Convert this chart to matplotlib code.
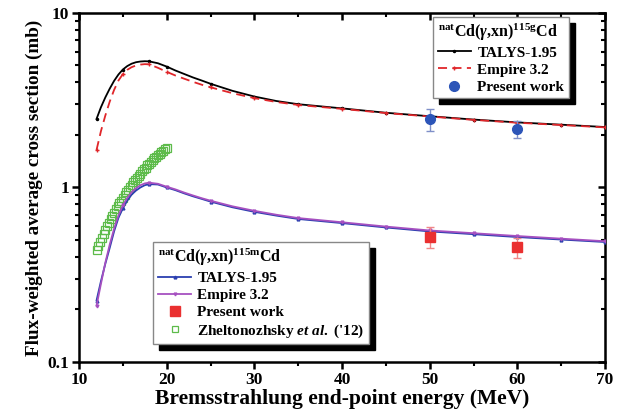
import numpy as np
import matplotlib
matplotlib.use("Agg")
import matplotlib.pyplot as plt
from matplotlib.patches import Rectangle
from matplotlib.lines import Line2D

plt.rcParams['font.family'] = ['Liberation Serif', 'DejaVu Serif']
plt.rcParams['font.weight'] = 'bold'
plt.rcParams['mathtext.fontset'] = 'custom'
plt.rcParams['mathtext.rm'] = 'Liberation Serif:bold'
plt.rcParams['mathtext.bf'] = 'Liberation Serif:bold'
plt.rcParams['mathtext.it'] = 'Liberation Serif:bold:italic'

# --- model curves (energy in MeV, cross section in mb) ---
energy = [12, 12.5, 13, 13.5, 14, 14.5, 15, 15.5, 16, 16.5, 17, 17.5, 18, 19, 20,
          21, 22, 23, 24, 25, 27.5, 30, 32.5, 35, 40, 45, 50, 55, 60, 65, 70]

talys_g = [2.47, 2.88, 3.28, 3.68, 4.08, 4.44, 4.74, 4.96, 5.12, 5.22, 5.27, 5.29, 5.28, 5.15, 4.93,
           4.68, 4.47, 4.27, 4.10, 3.93, 3.58, 3.32, 3.13, 3.00, 2.84, 2.68, 2.56, 2.45, 2.36, 2.29, 2.22]
empire_g = [1.64, 2.10, 2.58, 3.10, 3.62, 4.10, 4.46, 4.72, 4.89, 5.00, 5.06, 5.09, 5.08, 4.85, 4.60,
            4.38, 4.20, 4.03, 3.88, 3.75, 3.47, 3.25, 3.09, 2.97, 2.82, 2.67, 2.55, 2.44, 2.35, 2.28, 2.21]
talys_m = [0.225, 0.29, 0.365, 0.45, 0.56, 0.67, 0.76, 0.84, 0.91, 0.96, 1.00, 1.03, 1.045, 1.04, 1.00,
           0.965, 0.925, 0.89, 0.86, 0.83, 0.77, 0.725, 0.69, 0.66, 0.625, 0.59, 0.56, 0.54, 0.52, 0.503, 0.487]
empire_m = [0.21, 0.28, 0.37, 0.47, 0.58, 0.69, 0.79, 0.87, 0.94, 0.99, 1.03, 1.055, 1.065, 1.05, 1.01,
            0.975, 0.935, 0.9, 0.868, 0.84, 0.78, 0.735, 0.698, 0.668, 0.632, 0.597, 0.567, 0.547, 0.527, 0.509, 0.492]

# energies that carry a symbol on the model curves
mark_energy = [12, 15, 18, 20, 25, 30, 35, 40, 45, 50, 55, 60, 65, 70]

# --- present work ---
pw_energy = [50, 60]
pw_g = [2.47, 2.16]
pw_g_err = [0.35, 0.25]
pw_m = [0.52, 0.455]
pw_m_err = [0.07, 0.06]

# --- Zheltonozhsky et al. ('12) ---
zh_energy = [12.0, 12.2, 12.4, 12.6, 12.8, 13.0, 13.2, 13.4, 13.6, 13.8, 14.0, 14.2, 14.4, 14.6,
             14.8, 15.0, 15.2, 15.4, 15.6, 15.8, 16.0, 16.2, 16.4, 16.6, 16.8, 17.0, 17.2, 17.4,
             17.6, 17.8, 18.0, 18.2, 18.4, 18.6, 18.8, 19.0, 19.2, 19.4, 19.6, 19.8, 20.0]
zh_m = [0.440, 0.465, 0.490, 0.516, 0.543, 0.571, 0.600, 0.628, 0.658, 0.687, 0.718, 0.748, 0.780, 0.811,
        0.841, 0.873, 0.906, 0.938, 0.970, 1.000, 1.035, 1.069, 1.100, 1.135, 1.170, 1.200, 1.236, 1.270,
        1.300, 1.337, 1.370, 1.400, 1.435, 1.470, 1.500, 1.530, 1.563, 1.596, 1.626, 1.656, 1.687]

marks = [energy.index(e) for e in mark_energy]

fig = plt.figure(figsize=(6.25, 4.18), dpi=100)
ax = fig.add_axes([0.1264, 0.134, 0.8416, 0.835])

l_tg, = ax.plot(energy, talys_g, color='black', lw=1.3, marker='.', ms=3, markevery=marks, zorder=3)
l_eg, = ax.plot(energy, empire_g, color='#e0262a', lw=1.3, ls=(0, (5, 3)), marker='+', ms=3,
                markevery=marks, zorder=3)
l_tm, = ax.plot(energy, talys_m, color='#2b3fb0', lw=1.3, marker='^', ms=2, markevery=marks, zorder=3)
l_em, = ax.plot(energy, empire_m, color='#a650c0', lw=1.3, marker='v', ms=2, markevery=marks, zorder=3)

h_zh, = ax.plot(zh_energy, zh_m, ls='none', marker='s', ms=5.5, mfc='none', mec='#5dbb4a', mew=0.9, zorder=2)

eb_g = ax.errorbar(pw_energy, pw_g, yerr=pw_g_err, fmt='o', ms=7, color='#2c55b8',
                   ecolor='#7f8fc8', elinewidth=1, capsize=3, zorder=4)
eb_m = ax.errorbar(pw_energy, pw_m, yerr=pw_m_err, fmt='s', ms=7, color='#ea3030',
                   ecolor='#f08888', elinewidth=1, capsize=3, zorder=4)

ax.set_yscale('log')
ax.set_xlim(10, 70)
ax.set_ylim(0.1, 10)
ax.set_xticks(np.arange(10, 71, 10))
ax.set_xticks(np.arange(15, 70, 10), minor=True)
ax.set_yticks([0.1, 1, 10])
ax.set_yticklabels(['0.1', '1', '10'])

for s in ax.spines.values():
    s.set_linewidth(1.8)
ax.tick_params(which='major', direction='out', length=5, width=1.8, labelsize=12.5, pad=2)
ax.tick_params(which='minor', direction='out', length=3, width=1.5)
ax.tick_params(axis='y', which='minor', labelleft=False)

top = ax.secondary_xaxis('top')
top.set_xticks(np.arange(10, 71, 10))
top.set_xticks(np.arange(15, 70, 10), minor=True)
top.tick_params(which='major', direction='in', length=5, width=1.8, labeltop=False)
top.tick_params(which='minor', direction='in', length=3, width=1.5)
right = ax.secondary_yaxis('right')
right.tick_params(which='major', direction='in', length=5, width=1.8, labelright=False)
right.tick_params(which='minor', direction='in', length=3, width=1.5, labelright=False)

ax.set_xlabel('Bremsstrahlung end-point energy (MeV)', fontsize=15.5, fontweight='bold', labelpad=1)
ax.set_ylabel('Flux-weighted average cross section (mb)', fontsize=13.8, fontweight='bold', labelpad=3)

leg_kw = dict(frameon=True, fancybox=False, edgecolor='#888888', framealpha=1,
              prop={'size': 11, 'weight': 'bold'}, title_fontsize=11.5,
              handlelength=2.2, handletextpad=0.4, labelspacing=0.22, borderpad=0.3,
              borderaxespad=0)

pw_g_h = Line2D([], [], ls='none', marker='o', ms=7, color='#2c55b8')
leg1 = ax.legend([l_tg, l_eg, pw_g_h], ['TALYS-1.95', 'Empire 3.2', 'Present work'],
                 title=r'$^{\mathrm{nat}}$Cd($\gamma$,xn)$^{\mathrm{115g}}$Cd',
                 loc='upper left', bbox_to_anchor=(0.673, 0.989), **leg_kw)
leg1._legend_box.align = 'left'
ax.add_artist(leg1)

pw_m_h = Line2D([], [], ls='none', marker='s', ms=7, color='#ea3030')
zh_h = Line2D([], [], ls='none', marker='s', ms=5, mfc='none', mec='#5dbb4a', mew=0.9)
leg2 = ax.legend([l_tm, l_em, pw_m_h, zh_h],
                 ['TALYS-1.95', 'Empire 3.2', 'Present work', "Zheltonozhsky $\\mathit{et\\ al.}$ ('12)"],
                 title=r'$^{\mathrm{nat}}$Cd($\gamma$,xn)$^{\mathrm{115m}}$Cd',
                 loc='upper left', bbox_to_anchor=(0.141, 0.344), **leg_kw)
leg2._legend_box.align = 'left'

# solid black drop shadows behind both legends
fig.canvas.draw()
r = fig.canvas.get_renderer()
inv = ax.transAxes.inverted()
for lg in (leg1, leg2):
    bb = lg.get_window_extent(r)
    (x0, y0), (x1, y1) = inv.transform([[bb.x0 + 6, bb.y0 - 6], [bb.x1 + 6, bb.y1 - 6]])
    ax.add_patch(Rectangle((x0, y0), x1 - x0, y1 - y0, transform=ax.transAxes,
                           color='black', zorder=4.5, clip_on=False))

fig.savefig('out.png', dpi=100)
